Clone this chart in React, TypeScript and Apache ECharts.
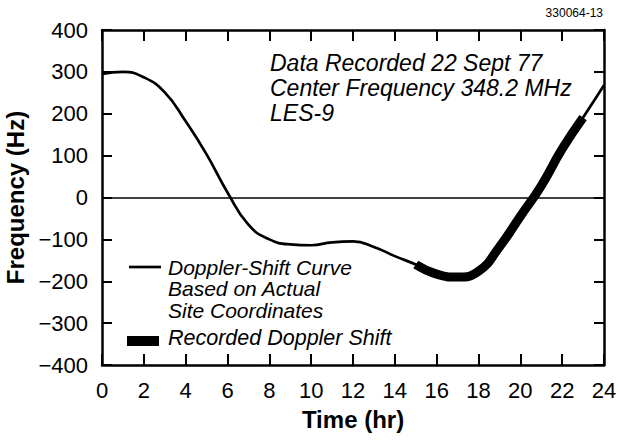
import React, { useEffect, useRef } from "react";
import * as echarts from "echarts";

// Doppler shift of LES-9 over one day (hours, Hz)
const hours = [0, 1, 2, 3, 4, 5, 6, 7, 8, 9, 10, 11, 12, 13, 14, 15, 16, 17, 18, 19, 20, 21, 22, 23, 24];
const dopplerHz = [295, 300, 287, 251, 182, 103, 12, -65, -100, -112, -114, -107, -105, -118, -140, -160, -183, -190, -176, -118, -45, 28, 116, 191, 268];

// Portion actually recorded (hours 15-23)
const recordedHours = [15, 16, 17, 18, 19, 20, 21, 22, 23];
const recordedHz = [-160, -183, -190, -176, -118, -45, 28, 116, 191];

const yTicks = { min: -400, max: 400, step: 100 };
const xTicks = { min: 0, max: 24, step: 2 };

const noteLines = ["Data Recorded 22 Sept 77", "Center Frequency 348.2 MHz", "LES-9"];
const curveLegendLines = ["Doppler-Shift Curve", "Based on Actual", "Site Coordinates"];
const recordedLegend = "Recorded Doppler Shift";
const figureId = "330064-13";

const FONT = '"Liberation Sans", Arial, Helvetica, sans-serif';

const fmtNum = (v: number) => (v < 0 ? "\u2212" + Math.abs(v) : String(v));

export default function App() {
  const ref = useRef<HTMLDivElement>(null);

  useEffect(() => {
    if (!ref.current) return;
    const chart = echarts.init(ref.current, undefined, { renderer: "svg" });

    const frameLine = { show: true, onZero: false, lineStyle: { color: "#000", width: 2.5 } };
    const tick = (len: number) => ({ show: true, inside: true, length: len, lineStyle: { color: "#000", width: 2 } });
    const italic = (size: number) => ({ fontSize: size, fontStyle: "italic", fontFamily: FONT, fill: "#000" });

    const option: any = {
      animation: false,
      backgroundColor: "#fff",
      grid: { left: 102, right: 16, top: 30, bottom: 78, containLabel: false, outerBoundsMode: "none" },
      xAxis: [
        {
          type: "value",
          position: "bottom",
          min: xTicks.min,
          max: xTicks.max,
          interval: xTicks.step,
          axisLine: frameLine,
          axisTick: tick(11),
          splitLine: { show: false },
          axisLabel: { fontSize: 22, color: "#000", fontFamily: FONT, margin: 14, hideOverlap: false },
          name: "Time (hr)",
          nameLocation: "middle",
          nameGap: 42,
          nameTextStyle: { fontSize: 24, fontWeight: "bold", color: "#000", fontFamily: FONT },
        },
        {
          type: "value",
          position: "top",
          min: xTicks.min,
          max: xTicks.max,
          interval: xTicks.step,
          axisLine: frameLine,
          axisTick: tick(11),
          splitLine: { show: false },
          axisLabel: { show: false },
        },
      ],
      yAxis: [
        {
          type: "value",
          position: "left",
          min: yTicks.min,
          max: yTicks.max,
          interval: yTicks.step,
          axisLine: frameLine,
          axisTick: tick(10),
          splitLine: { show: false },
          axisLabel: { fontSize: 22, color: "#000", fontFamily: FONT, margin: 14, formatter: fmtNum },
          name: "Frequency (Hz)",
          nameLocation: "middle",
          nameGap: 63,
          nameTextStyle: { fontSize: 24, fontWeight: "bold", color: "#000", fontFamily: FONT },
        },
        {
          type: "value",
          position: "right",
          min: yTicks.min,
          max: yTicks.max,
          interval: yTicks.step,
          axisLine: frameLine,
          axisTick: tick(10),
          splitLine: { show: false },
          axisLabel: { show: false },
        },
      ],
      series: [
        {
          name: "Doppler-Shift Curve",
          type: "line",
          xAxisIndex: 0,
          yAxisIndex: 0,
          data: hours.map((h, i) => [h, dopplerHz[i]]),
          smooth: 0.5,
          symbol: "none",
          lineStyle: { color: "#000", width: 2.7 },
          markLine: {
            silent: true,
            symbol: ["none", "none"],
            label: { show: false },
            lineStyle: { color: "#000", width: 1.6, type: "solid" },
            data: [{ yAxis: 0 }],
          },
        },
        {
          name: "Recorded Doppler Shift",
          type: "line",
          xAxisIndex: 0,
          yAxisIndex: 0,
          data: recordedHours.map((h, i) => [h, recordedHz[i]]),
          smooth: 0.5,
          symbol: "none",
          lineStyle: { color: "#000", width: 9, cap: "butt" },
        },
      ],
      graphic: [
        {
          type: "text",
          right: 17,
          top: 7,
          style: { text: figureId, fontSize: 12, fontFamily: FONT, fill: "#000" },
        },
        ...noteLines.map((t, i) => ({
          type: "text",
          x: 270,
          y: 63 + i * 25,
          style: { text: t, ...italic(23), verticalAlign: "middle" },
        })),
        {
          type: "line",
          shape: { x1: 129, y1: 267, x2: 161, y2: 267 },
          style: { stroke: "#000", lineWidth: 2.7 },
        },
        ...curveLegendLines.map((t, i) => ({
          type: "text",
          x: 168,
          y: 267 + i * 21.5,
          style: { text: t, ...italic(21), verticalAlign: "middle" },
        })),
        {
          type: "rect",
          shape: { x: 127, y: 336, width: 32, height: 10 },
          style: { fill: "#000" },
        },
        {
          type: "text",
          x: 168,
          y: 338,
          style: { text: recordedLegend, ...italic(21.5), verticalAlign: "middle" },
        },
      ],
    };

    chart.setOption(option);
    return () => chart.dispose();
  }, []);

  return (
    <div style={{ position: "absolute", left: 0, top: 0 }}>
      <div ref={ref} style={{ width: 620, height: 443 }} />
    </div>
  );
}
